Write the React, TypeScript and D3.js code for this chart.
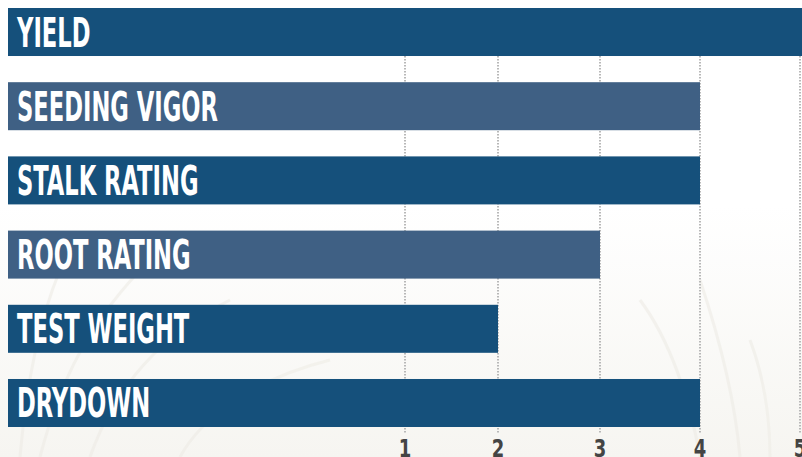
import React, { useEffect, useRef } from "react";
import * as d3 from "d3";

const categories = ["YIELD", "SEEDING VIGOR", "STALK RATING", "ROOT RATING", "TEST WEIGHT", "DRYDOWN"];
const values = [5.1, 4, 4, 3, 2, 4];
const tickValues = [1, 2, 3, 4, 5];
const tickLabels = ["1", "2", "3", "4", "5"];
const barColors = ["#15507b", "#3f6084", "#15507b", "#3f6084", "#15507b", "#15507b"];

const W = 802;
const H = 457;

export default function App() {
  const ref = useRef<SVGSVGElement | null>(null);

  useEffect(() => {
    const svg = d3.select(ref.current);
    svg.selectAll("*").remove();

    const defs = svg.append("defs");
    const grad = defs.append("linearGradient").attr("id", "bg").attr("x1", 0).attr("y1", 0).attr("x2", 0).attr("y2", 1);
    grad.append("stop").attr("offset", "0%").attr("stop-color", "#ffffff");
    grad.append("stop").attr("offset", "45%").attr("stop-color", "#ffffff");
    grad.append("stop").attr("offset", "100%").attr("stop-color", "#f6f5f1");
    svg.append("rect").attr("width", W).attr("height", H).attr("fill", "url(#bg)");

    // faint decorative grass strokes
    const deco = svg.append("g").attr("fill", "none").attr("stroke", "#eeece6").attr("stroke-width", 3).attr("opacity", 0.6);
    const strokes = [
      "M40,457 C60,380 90,320 150,260",
      "M90,457 C110,400 150,340 230,300",
      "M180,457 C200,420 250,380 330,360",
      "M20,457 C25,400 35,330 60,270",
      "M700,457 C690,400 670,340 640,300",
      "M740,457 C735,400 720,340 700,280",
      "M770,457 C770,420 765,380 750,340",
    ];
    strokes.forEach((d) => deco.append("path").attr("d", d));

    const x = d3.scaleLinear().domain([0, 1, 2, 3, 4, 5]).range([8, 405, 498, 600, 700, 800]);
    const y = d3.scaleBand<string>().domain(categories).range([8, 427]).paddingInner(0.353).paddingOuter(0);

    const gridTop = (y("YIELD") as number) + y.bandwidth();
    svg
      .append("g")
      .selectAll("line")
      .data(tickValues)
      .join("line")
      .attr("x1", (d) => x(d))
      .attr("x2", (d) => x(d))
      .attr("y1", gridTop)
      .attr("y2", 433)
      .attr("stroke", "#b8b8b8")
      .attr("stroke-width", 2)
      .attr("stroke-dasharray", "1.5,1.5");

    svg
      .append("g")
      .selectAll("rect")
      .data(categories)
      .join("rect")
      .attr("x", x(0))
      .attr("y", (d) => y(d) as number)
      .attr("width", (d, i) => x(values[i]) - x(0))
      .attr("height", y.bandwidth())
      .attr("fill", (d, i) => barColors[i]);

    const labels = svg
      .append("g")
      .selectAll("text")
      .data(categories)
      .join("text")
      .attr("x", 0)
      .attr("y", 0)
      .attr("fill", "#ffffff")
      .attr("font-family", "'Liberation Sans Narrow', 'DejaVu Sans Condensed', Roboto, sans-serif")
      .attr("font-weight", 700)
      .attr("font-size", 40)
      .text((d) => d);

    const node = labels.nodes()[1] as SVGTextElement;
    const len = node.getComputedTextLength();
    const sx = len > 0 ? 201 / len : 0.77;
    labels.attr(
      "transform",
      (d) => `translate(${x(0) + 9},${(y(d) as number) + y.bandwidth() / 2 + 14.5}) scale(${sx},1)`
    );

    svg
      .append("g")
      .selectAll("text")
      .data(tickValues)
      .join("text")
      .attr("x", 0)
      .attr("y", 0)
      .attr("fill", "#444444")
      .attr("font-family", "'Liberation Sans Narrow', 'DejaVu Sans Condensed', Roboto, sans-serif")
      .attr("font-weight", 600)
      .attr("font-size", 25)
      .attr("text-anchor", "middle")
      .attr("transform", (d) => `translate(${x(d)},${457}) scale(0.8,1)`)
      .text((d, i) => tickLabels[i]);
  }, []);

  return (
    <svg
      ref={ref}
      width={W}
      height={H}
      style={{ position: "absolute", left: 0, top: 0, display: "block" }}
    />
  );
}
